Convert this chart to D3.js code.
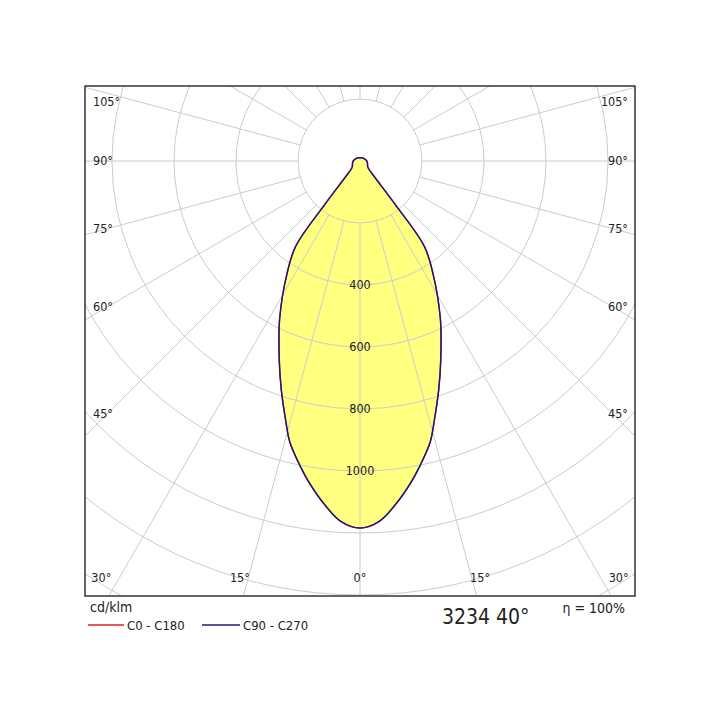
<!DOCTYPE html>
<html><head><meta charset="utf-8">
<script src="https://cdn.jsdelivr.net/npm/d3@7/dist/d3.min.js"></script>
<style>body{margin:0;background:#fff}text{font-family:"DejaVu Sans Condensed","DejaVu Sans",sans-serif;fill:#222}</style>
</head><body><div id="chart"></div>
<script>
// intensity (cd/klm) by gamma angle, symmetric for both planes
const gammas = [0, 3, 6, 9, 11, 14, 16, 19, 22, 27, 33, 37, 39, 42, 50, 60, 75, 90, 120, 150, 180];
const c0Values = [1184, 1165, 1112, 1050, 1005, 935, 870, 780, 695, 571, 432, 345, 180, 75, 34, 28, 25, 22, 15, 12, 10];
const c90Values = [1184, 1165, 1112, 1050, 1005, 935, 870, 780, 695, 571, 432, 345, 180, 75, 34, 28, 25, 22, 15, 12, 10];
const ringValues = [200, 400, 600, 800, 1000, 1200, 1400, 1600, 1800];
const ringLabels = [400, 600, 800, 1000];
const sideLabels = [105, 90, 75, 60, 45];
const bottomLabels = [30, 15, 0, 15, 30];

const width = 720, height = 720;
const frame = {x0: 85, y0: 86, x1: 635, y1: 596};
const cx = 360, cy = 161;

const r = d3.scaleLinear().domain([0, 200]).range([0, 62]);

const svg = d3.select("#chart").append("svg")
	.attr("width", width).attr("height", height);

svg.append("clipPath").attr("id", "clip")
	.append("rect")
		.attr("x", frame.x0).attr("y", frame.y0)
		.attr("width", frame.x1 - frame.x0).attr("height", frame.y1 - frame.y0);

const g = svg.append("g").attr("clip-path", "url(#clip)");
const plot = g.append("g").attr("transform", `translate(${cx},${cy})`);

// full closed curve: gamma measured from straight down
const fullCurve = (vals) => {
	const pts = [];
	gammas.forEach((gm, i) => pts.push([Math.PI - gm * Math.PI / 180, vals[i]]));
	for (let i = gammas.length - 2; i > 0; i--) pts.push([Math.PI + gammas[i] * Math.PI / 180, vals[i]]);
	return pts;
};

const line = d3.lineRadial()
	.angle((d) => d[0])
	.radius((d) => r(d[1]))
	.curve(d3.curveCatmullRomClosed.alpha(0.5));

plot.append("path")
	.attr("d", line(fullCurve(c90Values)))
	.attr("fill", "#ffff80")
	.attr("stroke", "none");

// grid
plot.selectAll("circle.ring")
	.data(ringValues)
	.enter()
	.append("circle")
		.attr("r", (d) => r(d))
		.attr("fill", "none")
		.attr("stroke", "#cccccc")
		.attr("stroke-width", 1);

plot.selectAll("line.spoke")
	.data(d3.range(0, 360, 15))
	.enter()
	.append("line")
		.attr("x1", (d) => r(200) * Math.sin(d * Math.PI / 180))
		.attr("y1", (d) => r(200) * Math.cos(d * Math.PI / 180))
		.attr("x2", (d) => 800 * Math.sin(d * Math.PI / 180))
		.attr("y2", (d) => 800 * Math.cos(d * Math.PI / 180))
		.attr("stroke", "#cccccc")
		.attr("stroke-width", 1);

plot.append("path")
	.attr("d", line(fullCurve(c0Values)))
	.attr("fill", "none")
	.attr("stroke", "#e0202a")
	.attr("stroke-width", 1.3);

plot.append("path")
	.attr("d", line(fullCurve(c90Values)))
	.attr("fill", "none")
	.attr("stroke", "#1a1a80")
	.attr("stroke-width", 1.5);

plot.selectAll("text.ring")
	.data(ringLabels)
	.enter()
	.append("text")
		.attr("x", 0)
		.attr("y", (d) => r(d))
		.attr("dy", "0.35em")
		.attr("text-anchor", "middle")
		.attr("font-size", 12.5)
		.text((d) => d);

// frame
svg.append("rect")
	.attr("x", frame.x0).attr("y", frame.y0)
	.attr("width", frame.x1 - frame.x0).attr("height", frame.y1 - frame.y0)
	.attr("fill", "none").attr("stroke", "#333").attr("stroke-width", 1.5);

// side angle labels
const half = cx - frame.x0;
sideLabels.forEach((a) => {
	const hit = cy + half * Math.tan((90 - a) * Math.PI / 180);
	const y = Math.max(102, cy + (hit - cy) * 0.92);
	svg.append("text").attr("x", frame.x0 + 8).attr("y", y).attr("dy", "0.35em")
		.attr("font-size", 12.5).text(a + "°");
	svg.append("text").attr("x", frame.x1 - 7).attr("y", y).attr("dy", "0.35em")
		.attr("text-anchor", "end").attr("font-size", 12.5).text(a + "°");
});

bottomLabels.forEach((a, i) => {
	const sign = i < 2 ? -1 : 1;
	let x = cx + sign * (frame.y1 - cy) * Math.tan(a * Math.PI / 180) * 1.03;
	x = Math.max(frame.x0 + 15, Math.min(frame.x1 - 15, x));
	svg.append("text").attr("x", x).attr("y", 578).attr("dy", "0.35em")
		.attr("text-anchor", "middle").attr("font-size", 12.5).text(a + "°");
});

// legend
svg.append("text").attr("x", 90).attr("y", 612).attr("font-size", 14).text("cd/klm");
svg.append("line").attr("x1", 88).attr("x2", 124).attr("y1", 625).attr("y2", 625)
	.attr("stroke", "#e0202a").attr("stroke-width", 1.3);
svg.append("text").attr("x", 127).attr("y", 630).attr("font-size", 13).text("C0 - C180");
svg.append("line").attr("x1", 202).attr("x2", 240).attr("y1", 625).attr("y2", 625)
	.attr("stroke", "#1a1a80").attr("stroke-width", 1.3);
svg.append("text").attr("x", 243).attr("y", 630).attr("font-size", 13).text("C90 - C270");
svg.append("text").attr("x", 442).attr("y", 624).attr("font-size", 21).text("3234  40°");
svg.append("text").attr("x", 625).attr("y", 613).attr("text-anchor", "end").attr("font-size", 14).text("η = 100%");
</script></body></html>
